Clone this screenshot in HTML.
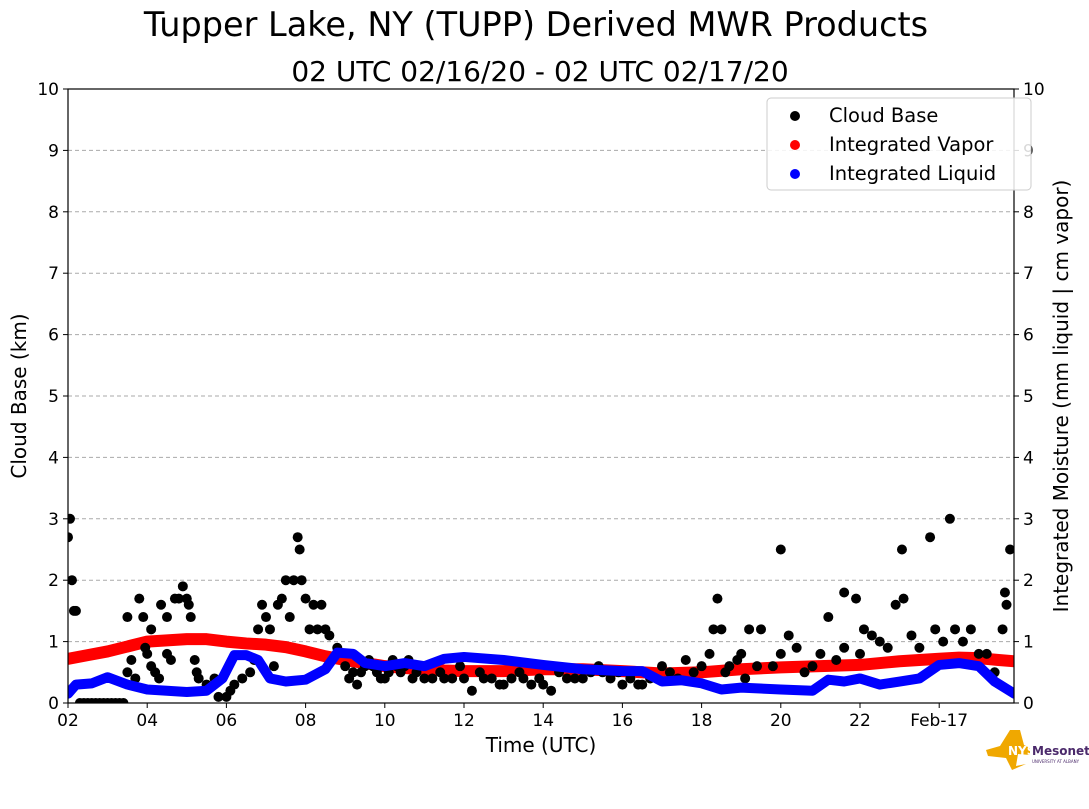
<!DOCTYPE html>
<html><head><meta charset="utf-8"><style>
body{margin:0;background:#fff;font-family:"Liberation Sans","DejaVu Sans",sans-serif;}
svg text{font-family:"DejaVu Sans","Liberation Sans",sans-serif;}
</style></head><body>
<svg id="chart" width="1089" height="804" xmlns="http://www.w3.org/2000/svg">
<rect width="1089" height="804" fill="#fff"/>
<text x="536" y="36" font-size="33.5" text-anchor="middle">Tupper Lake, NY (TUPP) Derived MWR Products</text>
<text x="540" y="81" font-size="28" text-anchor="middle">02 UTC 02/16/20 - 02 UTC 02/17/20</text>
<defs><clipPath id="pc"><rect x="68" y="89" width="946" height="614"/></clipPath></defs>
<g id="grid"></g>
<g id="marks" clip-path="url(#pc)"></g>
<rect x="68" y="89" width="946" height="614" fill="none" stroke="#000" stroke-width="1.2"/>
<g id="axes"></g>
<text transform="translate(26,396) rotate(-90)" font-size="20" text-anchor="middle">Cloud Base (km)</text>
<text transform="translate(1068,396) rotate(-90)" font-size="20" text-anchor="middle">Integrated Moisture (mm liquid | cm vapor)</text>
<text x="541" y="752" font-size="20" text-anchor="middle">Time (UTC)</text>
<g>
<rect x="767" y="98" width="264" height="92" rx="4" fill="#fff" fill-opacity="0.85" stroke="#ccc"/>
<circle cx="795" cy="116" r="5" fill="#000"/><text x="829" y="122" font-size="19.5">Cloud Base</text>
<circle cx="795" cy="145" r="5" fill="red"/><text x="829" y="151" font-size="19.5">Integrated Vapor</text>
<circle cx="795" cy="174" r="5" fill="blue"/><text x="829" y="180" font-size="19.5">Integrated Liquid</text>
</g>
<g>
<polygon points="986,750 1000,746 1010,730 1020,730 1024,745 1030,748 1030,755 1018,754 1016,766 1026,764 1012,770 1006,758 988,756" fill="#f0a800"/>
<text x="1008" y="755" font-size="12" font-weight="bold" fill="#fff">NYS</text>
<text x="1032" y="755" font-size="12" font-weight="bold" fill="#4b2a6b">Mesonet</text>
<text x="1032" y="763" font-size="4" fill="#4b2a6b">UNIVERSITY AT ALBANY</text>
</g>
</svg>
<script>
const xTickLabels=["02","04","06","08","10","12","14","16","18","20","22","Feb-17"];
const xTickHours=[2,4,6,8,10,12,14,16,18,20,22,24];
const yTicks=[0,1,2,3,4,5,6,7,8,9,10];
const vaporT=[2,2.5,3,3.5,4,4.5,5,5.5,6,6.5,7,7.5,8,8.5,9,9.5,10,10.5,11,11.5,12,13,14,15,16,17,18,19,20,21,22,23,24,24.5,25,25.5,25.9];
const vaporV=[0.72,0.78,0.84,0.92,1.0,1.02,1.04,1.04,1.0,0.97,0.95,0.91,0.84,0.76,0.7,0.65,0.6,0.57,0.55,0.53,0.52,0.52,0.55,0.55,0.52,0.48,0.5,0.55,0.58,0.6,0.62,0.68,0.72,0.74,0.73,0.7,0.68];
const liquidT=[2,2.2,2.6,3,3.5,4,5,5.5,5.9,6.2,6.5,6.8,7.1,7.5,8,8.5,8.8,9.2,9.5,10,10.5,11,11.5,12,13,14,15,16,16.5,17,17.5,18,18.5,19,20,20.8,21.2,21.6,22,22.5,23,23.5,24,24.5,25,25.4,25.9];
const liquidV=[0.15,0.3,0.32,0.42,0.3,0.22,0.18,0.2,0.4,0.78,0.78,0.7,0.4,0.35,0.38,0.55,0.82,0.8,0.65,0.6,0.65,0.6,0.72,0.75,0.7,0.62,0.55,0.52,0.52,0.35,0.37,0.32,0.22,0.25,0.22,0.2,0.38,0.35,0.4,0.3,0.35,0.4,0.62,0.65,0.6,0.35,0.15];
const cloudT=[2,2.05,2.1,2.15,2.2,2.3,2.4,2.5,2.6,2.7,2.8,2.9,3.0,3.1,3.2,3.3,3.4,3.5,3.5,3.6,3.7,3.8,3.9,3.95,4.0,4.1,4.1,4.2,4.3,4.35,4.5,4.5,4.6,4.7,4.8,4.9,5.0,5.05,5.1,5.2,5.25,5.3,5.5,5.7,5.8,6.0,6.1,6.2,6.4,6.6,6.7,6.8,6.9,7.0,7.1,7.2,7.3,7.4,7.5,7.6,7.7,7.8,7.85,7.9,8.0,8.1,8.2,8.3,8.4,8.5,8.6,8.8,9.0,9.2,9.5,9.8,10,10.3,10.6,11,11.5,12,12.2,12.5,13,13.5,14,14.2,14.6,15,15.5,16,16.5,17,17.6,18,18.2,18.3,18.4,18.5,18.7,19,19.2,19.5,19.8,20,20.0,20.2,20.4,20.6,21,21.2,21.6,21.6,21.9,22.1,22.3,22.5,22.7,22.9,23.06,23.1,23.3,23.5,23.77,23.9,24.1,24.27,24.4,24.6,24.8,25.0,25.2,25.4,25.6,25.66,25.7,25.79,
 9.1,9.3,9.4,9.6,9.7,9.9,10.1,10.2,10.4,10.5,10.7,10.8,11.2,11.4,11.7,11.9,12.4,12.7,12.9,13.2,13.4,13.7,13.9,14.4,14.8,15.2,15.4,15.7,15.9,16.2,16.4,16.7,17.2,17.4,17.8,18.6,18.9,19.1,19.4,20.8,21.4,22.0];
const cloudV=[2.7,3.0,2.0,1.5,1.5,0,0,0,0,0,0,0,0,0,0,0,0,0.5,1.4,0.7,0.4,1.7,1.4,0.9,0.8,0.6,1.2,0.5,0.4,1.6,0.8,1.4,0.7,1.7,1.7,1.9,1.7,1.6,1.4,0.7,0.5,0.4,0.3,0.4,0.1,0.1,0.2,0.3,0.4,0.5,0.7,1.2,1.6,1.4,1.2,0.6,1.6,1.7,2.0,1.4,2.0,2.7,2.5,2.0,1.7,1.2,1.6,1.2,1.6,1.2,1.1,0.9,0.6,0.5,0.6,0.5,0.4,0.6,0.7,0.4,0.4,0.4,0.2,0.4,0.3,0.4,0.3,0.2,0.4,0.4,0.5,0.3,0.3,0.6,0.7,0.6,0.8,1.2,1.7,1.2,0.6,0.8,1.2,1.2,0.6,0.8,2.5,1.1,0.9,0.5,0.8,1.4,0.9,1.8,1.7,1.2,1.1,1.0,0.9,1.6,2.5,1.7,1.1,0.9,2.7,1.2,1.0,3.0,1.2,1.0,1.2,0.8,0.8,0.5,1.2,1.8,1.6,2.5,
 0.4,0.3,0.5,0.7,0.6,0.4,0.5,0.7,0.5,0.6,0.4,0.5,0.4,0.5,0.4,0.6,0.5,0.4,0.3,0.4,0.5,0.3,0.4,0.5,0.4,0.5,0.6,0.4,0.5,0.4,0.3,0.4,0.5,0.4,0.5,0.5,0.7,0.4,0.6,0.6,0.7,0.8];

const NS="http://www.w3.org/2000/svg";
const X0=68,X1=1014,Y0=703,Y1=89;
const xs=t=>X0+(t-2)*39.6;
const ys=v=>Y0-(v/10)*(Y0-Y1);
function mk(tag,attrs,parent){const e=document.createElementNS(NS,tag);for(const k in attrs)e.setAttribute(k,attrs[k]);parent.appendChild(e);return e;}
const grid=document.getElementById('grid'),axes=document.getElementById('axes'),marks=document.getElementById('marks');
yTicks.forEach(v=>{
  if(v>0&&v<10){const g=mk('line',{x1:X0,x2:X1,y1:ys(v),y2:ys(v),stroke:'#aaa','stroke-dasharray':'4,3','stroke-width':1},grid);
  
  }
  mk('line',{x1:X0-5,x2:X0,y1:ys(v),y2:ys(v),stroke:'#000'},axes);
  mk('line',{x1:X1,x2:X1+5,y1:ys(v),y2:ys(v),stroke:'#000'},axes);
  const l=mk('text',{x:X0-9,y:ys(v)+6,'font-size':17,'text-anchor':'end'},axes);l.textContent=v;
  
  
  const r=mk('text',{x:X1+9,y:ys(v)+6,'font-size':17},axes);r.textContent=v;
  
  
});
xTickHours.forEach((h,i)=>{
  mk('line',{x1:xs(h),x2:xs(h),y1:Y0,y2:Y0+5,stroke:'#000'},axes);
  const t=mk('text',{x:xs(h),y:Y0+23,'font-size':17,'text-anchor':'middle'},axes);t.textContent=xTickLabels[i];
  
  
});
function series(T,V,color,name,w){
  const pts=T.map((t,i)=>xs(t)+','+ys(V[i])).join(' ');
  const pl=mk('polyline',{points:pts,fill:'none',stroke:color,'stroke-width':w,'stroke-linecap':'round','stroke-linejoin':'round'},marks);
  
  
}
series(vaporT,vaporV,'red','integrated-vapor-series',12);
cloudT.forEach((t,i)=>{
  const c=mk('circle',{cx:xs(t),cy:ys(cloudV[i]),r:5,fill:'#000'},marks);
  
  
});
series(liquidT,liquidV,'blue','integrated-liquid-series',10);
</script>
</body></html>
